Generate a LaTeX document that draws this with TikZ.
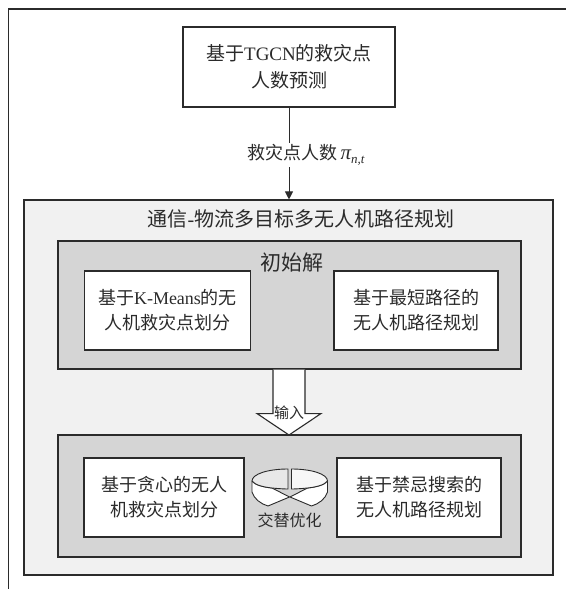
\documentclass[tikz,border=0pt]{standalone}
\usepackage{fontspec}
\setmainfont{Liberation Serif}
\newfontfamily\cjk{Noto Sans CJK SC}
\usetikzlibrary{arrows.meta,calc}
\definecolor{lightbg}{HTML}{F1F1F1}
\definecolor{midbg}{HTML}{D5D5D5}
\definecolor{ink}{HTML}{2B2B2B}
\newcommand\lat[1]{{\rmfamily #1}}
\newcommand\myhalfring[1]{%
  \filldraw[draw=ink, fill=white] (252,481) -- (252,492) .. controls (254,499) and (261,504) .. (268,506) -- (289.5,497) -- (272,488) .. controls (263,487) and (255,485) .. (252,481) -- cycle;
  \filldraw[draw=ink, fill=#1] (288,469) .. controls (268,469) and (252,474) .. (252,481) .. controls (255,485) and (263,487) .. (272,488) .. controls (278,488.6) and (284,489) .. (288,489) -- cycle;
}
\tikzset{
  every node/.style={font=\cjk, text=ink},
  boxline/.style={draw=ink, line width=1.1pt, inner sep=0pt},
  whitebox/.style={boxline, fill=white, minimum height=79pt},
  lightpanel/.style={boxline, fill=lightbg},
  midpanel/.style={boxline, fill=midbg},
  fA/.style={font=\cjk\fontsize{19}{27}\selectfont},
  fB/.style={font=\cjk\fontsize{18}{25}\selectfont},
  fT/.style={font=\cjk\fontsize{20}{24}\selectfont},
  fS/.style={font=\cjk\fontsize{16}{20}\selectfont},
  fI/.style={font=\cjk\fontsize{15}{18}\selectfont},
}
\begin{document}
\begin{tikzpicture}[x=1pt,y=-1pt]
\useasboundingbox (0,0) rectangle (566,589);
% outer frame (cut off at right and bottom)
\coordinate (fbl) at (8.7,589);
\coordinate (ftl) at (8.7,9);
\coordinate (ftr) at (566,9);
\draw[ink, line width=1.1pt] (fbl) -- (ftl) -- (ftr);

% top box
\node[boxline, fill=white, minimum width=212pt, minimum height=80pt, fA, align=center] (pred) at (289,67)
  {基于\lat{TGCN}的救灾点\\人数预测};

% big light panel
\node[lightpanel, minimum width=529pt, minimum height=375pt] (big) at (288.5,387.5) {};
\node[fT] (bigtitle) at (301,219) {通信\lat{-}物流多目标多无人机路径规划};

% initial solution panel
\node[midpanel, minimum width=463pt, minimum height=128pt] (init) at (289.5,305) {};
\node[font=\cjk\fontsize{21}{24}\selectfont] (inittitle) at (292,263) {初始解};
\node[whitebox, minimum width=166pt, fB, align=center] (km) at (167.5,310.5)
  {基于\lat{K-Means}的无\\人机救灾点划分};
\node[whitebox, minimum width=164pt, fB, align=center] (sp) at (416,310.5)
  {基于最短路径的\\无人机路径规划};

% optimisation panel
\node[midpanel, minimum width=463pt, minimum height=122pt] (opt) at (289.5,496) {};
\node[whitebox, minimum width=160pt, fB, align=center] (gr) at (164,497.5)
  {基于贪心的无人\\机救灾点划分};
\node[whitebox, minimum width=164pt, fB, align=center] (ts) at (419,497.5)
  {基于禁忌搜索的\\无人机路径规划};

% arrow from prediction to planning
\draw[ink, line width=1pt, -{Triangle[length=8pt,width=8pt]}] (pred.south) -- (pred.south |- big.north);
\node[fB, fill=white, inner sep=1pt] (lbl) at (306,155)
  {救灾点人数\,\lat{\itshape\fontsize{21}{24}\selectfont π\raisebox{-4pt}{\fontsize{13}{14}\selectfont n,t}}};

% block arrow "input"
\coordinate (tip) at (289,435);
\draw[ink, line width=1.1pt, fill=white, line join=miter]
  ($(init.south)+(-16.5,0)$) -- ++(0,44) -- ++(-16,0) -- (tip) -- ($(init.south)+(31.5,44)$) -- ++(-16,0) -- ($(init.south)+(15.5,0)$);
\node[fI] (inp) at (289,413) {输入};

% alternating optimisation icon
\begin{scope}[line width=0.9pt, line join=round]
  \myhalfring{gray!18}
  \begin{scope}[shift={(579.5,0)}, xscale=-1]
    \myhalfring{gray!6}
  \end{scope}
\end{scope}
\node[fS] (alt) at (289.5,520) {交替优化};
\end{tikzpicture}
\end{document}
